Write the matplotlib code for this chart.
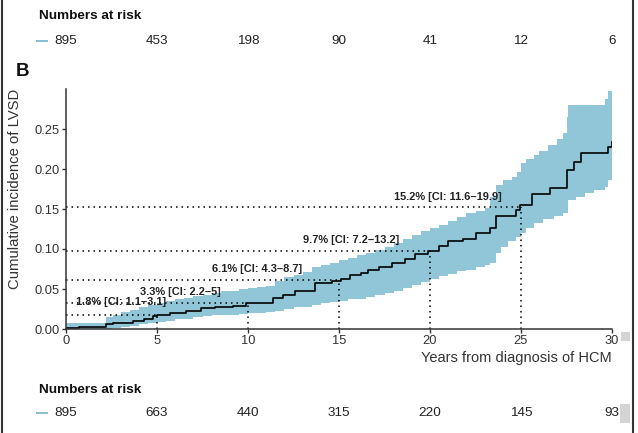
#!/usr/bin/env python3
# -*- coding: utf-8 -*-

import matplotlib
matplotlib.use("Agg")
import matplotlib.pyplot as plt
from matplotlib.transforms import blended_transform_factory
from matplotlib.patches import Rectangle

plt.rcParams['font.family'] = ['Liberation Sans', 'DejaVu Sans']

# cumulative incidence step curve (years, value)
event_times = [0, 0.7, 2.2, 2.6, 3.7, 4.3, 4.8, 5.0, 5.7, 6.6, 7.4, 8.2, 9.2, 9.9,
               11.4, 11.9, 12.6, 13.7, 14.6, 15.1, 15.6, 16.2, 16.6, 17.2, 17.9,
               18.6, 19.2, 19.9, 20.5, 21.0, 21.8, 22.5, 23.3, 23.6, 24.7, 24.95,
               25.6, 26.6, 27.5, 27.9, 28.3, 29.8, 30.0]
cuminc      = [0.001, 0.002, 0.006, 0.008, 0.010, 0.013, 0.016, 0.018, 0.020, 0.023,
               0.026, 0.028, 0.029, 0.033, 0.039, 0.043, 0.048, 0.057, 0.060, 0.062,
               0.0675, 0.070, 0.074, 0.078, 0.083, 0.087, 0.094, 0.097, 0.104, 0.110,
               0.113, 0.120, 0.126, 0.141, 0.149, 0.155, 0.169, 0.176, 0.199, 0.209,
               0.220, 0.228, 0.234]

# confidence band (upper / lower limits)
upper_times = [0, 2.2, 2.6, 3.0, 3.5, 4.0, 4.5, 5.0, 5.5, 6.0, 6.5, 7.0, 7.5, 8.0,
               8.5, 9.0, 9.5, 10.0, 10.5, 11.0, 11.5, 12.0, 12.5, 13.0, 13.5, 14.0,
               14.5, 15.0, 15.5, 16.0, 16.5, 17.0, 17.5, 18.0, 18.5, 19.0, 19.5,
               20.0, 20.5, 21.0, 21.5, 22.0, 22.5, 23.0, 23.3, 23.6, 24.0, 24.5,
               24.8, 25.0, 25.3, 25.7, 26.0, 26.5, 27.0, 27.3, 27.5, 27.6, 29.6,
               29.8, 30.0]
ci_upper    = [0.008, 0.015, 0.018, 0.021, 0.024, 0.027, 0.030, 0.032, 0.035, 0.037,
               0.039, 0.041, 0.043, 0.045, 0.047, 0.048, 0.050, 0.051, 0.052, 0.054,
               0.060, 0.065, 0.068, 0.071, 0.077, 0.080, 0.083, 0.086, 0.089, 0.092,
               0.095, 0.099, 0.103, 0.107, 0.112, 0.117, 0.122, 0.126, 0.130, 0.135,
               0.140, 0.145, 0.148, 0.151, 0.165, 0.180, 0.186, 0.190, 0.196, 0.207,
               0.212, 0.217, 0.222, 0.230, 0.238, 0.245, 0.265, 0.280, 0.288, 0.297,
               0.297]
lower_times = [0, 2.5, 3.0, 3.5, 4.0, 4.5, 5.0, 5.5, 6.0, 6.5, 7.0, 7.5, 8.0, 9.0,
               9.5, 10.0, 11.0, 11.5, 12.0, 12.5, 13.0, 13.5, 14.0, 14.5, 15.0,
               15.5, 16.0, 16.5, 17.0, 17.5, 18.0, 18.5, 19.0, 19.5, 20.0, 20.5,
               21.0, 21.5, 22.0, 22.5, 23.0, 23.3, 23.6, 23.9, 24.3, 24.7, 25.0,
               25.3, 25.7, 26.2, 26.8, 27.3, 27.6, 28.0, 28.5, 29.0, 29.6, 29.8,
               30.0]
ci_lower    = [0.000, 0.001, 0.002, 0.004, 0.006, 0.008, 0.009, 0.010, 0.012, 0.013,
               0.015, 0.016, 0.017, 0.018, 0.019, 0.020, 0.021, 0.023, 0.025, 0.027,
               0.028, 0.030, 0.032, 0.034, 0.035, 0.037, 0.038, 0.040, 0.042, 0.045,
               0.048, 0.051, 0.055, 0.059, 0.063, 0.066, 0.069, 0.072, 0.074, 0.077,
               0.080, 0.082, 0.095, 0.103, 0.110, 0.115, 0.120, 0.126, 0.132, 0.137,
               0.141, 0.145, 0.161, 0.165, 0.170, 0.174, 0.178, 0.186, 0.186]

# marked estimates
mark_years  = [5, 10, 15, 20, 25]
mark_values = [0.018, 0.033, 0.061, 0.097, 0.152]
mark_labels = ["1.8% [CI: 1.1\u20133.1]", "3.3% [CI: 2.2\u20135]", "6.1% [CI: 4.3\u20138.7]",
               "9.7% [CI: 7.2\u201313.2]", "15.2% [CI: 11.6\u201319.9]"]
label_x = [3.0, 6.3, 10.5, 15.65, 21.0]
label_y = [0.034, 0.046, 0.075, 0.111, 0.165]

# numbers at risk
risk_ticks  = [0, 5, 10, 15, 20, 25, 30]
risk_top    = [895, 453, 198, 90, 41, 12, 6]
risk_bottom = [895, 663, 440, 315, 220, 145, 93]

W, H = 638, 433
fig = plt.figure(figsize=(W / 100, H / 100), dpi=100)
ax = fig.add_axes([66 / W, 1 - 329 / H, 546 / W, 240 / H])

band_col = "#90c6d7"
ax.fill_between(upper_times, 0, ci_upper, step="post", color=band_col, lw=0)
ax.fill_between(lower_times, 0, ci_lower, step="post", color="white", lw=0)
ax.step(event_times, cuminc, where="post", color="black", lw=1.2)

dots = (0, (1, 2.6))
for x, y in zip(mark_years, mark_values):
    ax.plot([0, x], [y, y], color="black", lw=1.1, ls=dots)
    ax.plot([x, x], [0, y], color="black", lw=1.1, ls=dots)
for lx, ly, txt in zip(label_x, label_y, mark_labels):
    ax.text(lx, ly, txt, ha="center", va="center", fontsize=7.9,
            fontweight="bold", color="#222222")

ax.set_xlim(0, 30)
ax.set_ylim(0, 0.30)
ax.set_xticks(risk_ticks)
ax.set_yticks([0, 0.05, 0.10, 0.15, 0.20, 0.25])
ax.set_yticklabels(["0.00", "0.05", "0.10", "0.15", "0.20", "0.25"])
for s in ["top", "right"]:
    ax.spines[s].set_visible(False)
for s in ["left", "bottom"]:
    ax.spines[s].set_color("#333333")
    ax.spines[s].set_linewidth(1.1)
ax.tick_params(length=3, width=1, color="#333333", labelsize=9.3,
               labelcolor="#333333", pad=1.5)
ax.set_ylabel("Cumulative incidence of LVSD", fontsize=10.7, color="#333333")
ax.yaxis.set_label_coords(-0.0806, 0.583)
ax.set_xlabel("Years from diagnosis of HCM", fontsize=10.5, color="#333333",
              loc="right", labelpad=3)

# numbers at risk tables
tr = blended_transform_factory(ax.transData, fig.transFigure)
for y_head, y_val, vals in [(16, 41, risk_top), (390, 413, risk_bottom)]:
    fig.text(39 / W, 1 - y_head / H, "Numbers at risk", fontsize=9.7,
             fontweight="bold", va="center", ha="left", color="#111111")
    fig.add_artist(plt.Line2D([37 / W, 47 / W], [1 - y_val / H] * 2,
                              color="#86bcd0", lw=1.4))
    for x, v in zip(risk_ticks, vals):
        ax.text(x, 1 - y_val / H, str(v), transform=tr, fontsize=9.7,
                ha="center", va="center", color="#222222")

fig.text(16 / W, 1 - 71 / H, "B", fontsize=13.5, fontweight="bold",
         va="center", ha="left", color="#111111")

# frame borders and scroll marks
fig.add_artist(plt.Line2D([2 / W, 2 / W], [0, 1], color="#333333", lw=1.5))
fig.add_artist(plt.Line2D([633 / W, 633 / W], [0, 1], color="#333333", lw=1.5))
fig.add_artist(Rectangle((621 / W, 1 - 341 / H), 9 / W, 9 / H, color="#d4d4d4", lw=0))
fig.add_artist(Rectangle((620 / W, 1 - 423 / H), 10 / W, 19 / H, color="#d4d4d4", lw=0))

fig.savefig("out.png", dpi=100)
